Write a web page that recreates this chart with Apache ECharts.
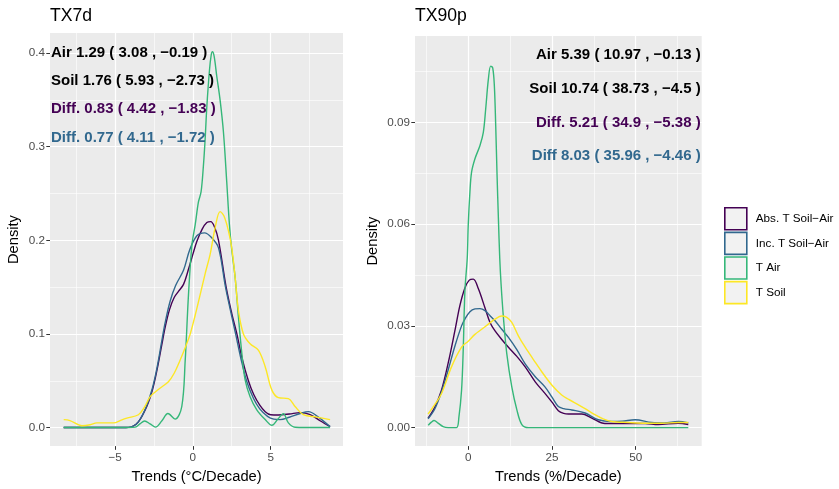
<!DOCTYPE html>
<html>
<head>
<meta charset="utf-8">
<script src="https://cdn.jsdelivr.net/npm/echarts@6/dist/echarts.min.js"></script>
<style>html,body{margin:0;padding:0;background:#fff}#c{width:839px;height:489px}</style>
</head>
<body>
<div id="c"></div>
<script>
// ---------- data ----------
const seriesNames = ['Abs. T Soil\u2212Air', 'Inc. T Soil\u2212Air', 'T Air', 'T Soil'];
const seriesColors = ['#440154', '#31688E', '#35B779', '#FDE725'];

const panelTitles = ['TX7d', 'TX90p'];
const xTitles = ['Trends (\u00B0C/Decade)', 'Trends (%/Decade)'];

// TX7d densities [trend, density]
const tx7dAbs = [[-8.3,0],[-4.5,0],[-3.9,0.001],[-3.5,0.006],[-2.96,0.0225],[-2.6,0.04],[-2.31,0.061],[-2.0,0.088],[-1.78,0.107],[-1.5,0.126],[-1.2,0.139],[-0.9,0.146],[-0.6,0.153],[-0.3,0.168],[0.0,0.185],[0.26,0.199],[0.6,0.212],[0.9,0.219],[1.15,0.22],[1.4,0.214],[1.65,0.2],[2.14,0.15],[2.5,0.122],[2.83,0.1],[3.15,0.075],[3.57,0.05],[3.92,0.035],[4.3,0.024],[4.65,0.017],[5.0,0.0137],[5.5,0.0135],[6.2,0.0145],[6.9,0.016],[7.5,0.0142],[8.2,0.007],[8.82,0.001]];
const tx7dInc = [[-8.3,0],[-4.5,0],[-3.9,0.001],[-3.5,0.006],[-3.0,0.022],[-2.6,0.042],[-2.3,0.064],[-2.0,0.092],[-1.78,0.112],[-1.46,0.135],[-1.1,0.152],[-0.6,0.168],[-0.2,0.19],[0.26,0.205],[0.75,0.208],[1.2,0.203],[1.65,0.192],[2.1,0.15],[2.75,0.1],[3.1,0.073],[3.45,0.05],[3.9,0.031],[4.3,0.02],[4.8,0.012],[5.2,0.009],[5.6,0.0085],[6.2,0.011],[6.9,0.015],[7.43,0.017],[8.0,0.012],[8.82,0.001]];
const tx7dAir = [[-8.3,0],[-4.5,0],[-3.7,0.0005],[-3.4,0.004],[-3.1,0.007],[-2.75,0.004],[-2.4,0.0005],[-2.0,0.007],[-1.6,0.015],[-1.14,0.009],[-0.71,0.0225],[-0.49,0.072],[-0.28,0.142],[-0.06,0.195],[0.15,0.2166],[0.36,0.241],[0.53,0.252],[0.68,0.28],[0.79,0.308],[0.9,0.343],[1.07,0.382],[1.18,0.398],[1.26,0.4014],[1.37,0.3965],[1.54,0.375],[1.75,0.35],[1.97,0.315],[2.18,0.262],[2.35,0.217],[2.5,0.19],[2.72,0.16],[2.93,0.118],[3.15,0.079],[3.36,0.051],[3.68,0.033],[4.11,0.019],[4.65,0.0085],[5.08,0.0024],[5.44,0.0085],[5.82,0.0148],[6.14,0.005],[6.57,0.0003],[7.2,0],[8.82,0]];
const tx7dSoil = [[-8.3,0.0085],[-7.9,0.0075],[-7.13,0.002],[-6.6,0.003],[-6.17,0.005],[-5.1,0.005],[-4.6,0.008],[-4.24,0.01],[-3.5,0.0137],[-3.1,0.022],[-2.74,0.033],[-2.2,0.041],[-1.57,0.049],[-1.2,0.058],[-0.82,0.072],[-0.5,0.085],[-0.17,0.1],[0.15,0.12],[0.47,0.142],[0.8,0.165],[1.11,0.185],[1.45,0.215],[1.75,0.2307],[2.0,0.226],[2.29,0.21],[2.5,0.192],[2.72,0.16],[2.93,0.125],[3.25,0.1],[3.68,0.0895],[4.22,0.0825],[4.65,0.065],[5.08,0.04],[5.5,0.032],[6.14,0.031],[6.57,0.0225],[7.1,0.0137],[7.97,0.0112],[8.82,0.0085]];

// TX90p densities [trend, density]
const tx90pAbs = [[-12,0.0028],[-10,0.006],[-8,0.011],[-6,0.019],[-4,0.0285],[-2.5,0.036],[-1,0.0412],[0.3,0.0435],[1.5,0.0438],[3,0.041],[5,0.0353],[6.5,0.031],[8,0.0285],[10,0.026],[12,0.0237],[14.5,0.021],[17,0.0179],[20,0.0135],[22.9,0.0101],[25,0.0075],[26.9,0.005],[28.5,0.0042],[29.9,0.004],[33.9,0.004],[36.9,0.0028],[40.8,0.0012],[45.8,0.0012],[52.8,0.0012],[56.7,0.0009],[62.7,0.0013],[65.7,0.0009]];
const tx90pInc = [[-12,0.0026],[-10,0.0055],[-8,0.0105],[-6,0.017],[-4,0.024],[-2,0.03],[-1,0.032],[0.5,0.0342],[2,0.035],[3.5,0.0351],[5,0.0345],[6.5,0.033],[8,0.0315],[10,0.029],[12,0.0266],[14.5,0.023],[17,0.0188],[20,0.015],[22.9,0.012],[25,0.009],[26.9,0.0062],[28.5,0.0056],[30.9,0.0052],[34.9,0.0043],[38.8,0.0023],[42.8,0.0018],[46,0.0019],[49.8,0.0023],[54.8,0.0015],[58.5,0.0014],[62.7,0.0018],[65.7,0.0014]];
const tx90pAir = [[-11.95,0.0007],[-11,0.0016],[-10.2,0.0021],[-9,0.0013],[-7.5,0.0003],[-6,0],[-3.5,0],[-2.8,0.003],[-2,0.011],[-1.5,0.023],[-1,0.0403],[-0.3,0.05],[0,0.0598],[0.5,0.0695],[1.0,0.0754],[2,0.0793],[3.5,0.0832],[4.5,0.0871],[5.2,0.0939],[6,0.1027],[6.7,0.1066],[7.3,0.1061],[7.8,0.1007],[8.2,0.089],[8.6,0.0744],[9.0,0.0617],[9.4,0.05],[9.8,0.0423],[10.5,0.0325],[11.5,0.0218],[13,0.012],[14.5,0.0053],[16,0.0009],[18,0],[65.7,0]];
const tx90pSoil = [[-12,0.004],[-10,0.0068],[-8,0.01],[-5,0.0179],[-2,0.0237],[0,0.0255],[2,0.0275],[4,0.029],[6,0.0305],[8,0.032],[10,0.0329],[11.5,0.0325],[13,0.031],[15,0.027],[17,0.0237],[19.5,0.02],[22,0.0164],[25,0.0125],[27.9,0.0096],[30,0.0083],[32.9,0.0067],[35,0.0055],[37.8,0.0038],[40,0.0027],[42.8,0.0018],[47.8,0.0015],[52.8,0.0013],[57.8,0.0013],[62.7,0.0015],[65.7,0.0015]];

// axis ranges and ticks
const tx7dXRange = [-9.18, 9.65];
const tx7dYRange = [-0.0198, 0.4215];
const tx90pXRange = [-15.9, 69.7];
const tx90pYRange = [-0.00546, 0.1155];
const tx7dXTicks = [-5, 0, 5];
const tx7dXMinor = [-7.5, -2.5, 2.5, 7.5];
const tx7dYTicks = [0, 0.1, 0.2, 0.3, 0.4];
const tx7dYMinor = [0.05, 0.15, 0.25, 0.35];
const tx90pXTicks = [0, 25, 50];
const tx90pXMinor = [-12.5, 12.5, 37.5, 62.5];
const tx90pYTicks = [0, 0.03, 0.06, 0.09];
const tx90pYMinor = [0.015, 0.045, 0.075, 0.105];

// annotation texts (positioned at density values)
const tx7dNotes = ['Air 1.29 ( 3.08 , \u22120.19 )', 'Soil 1.76 ( 5.93 , \u22122.73 )', 'Diff. 0.83 ( 4.42 , \u22121.83 )', 'Diff. 0.77 ( 4.11 , \u22121.72 )'];
const tx7dNoteY = [0.4, 0.37, 0.34, 0.31];
const tx90pNotes = ['Air 5.39 ( 10.97 , \u22120.13 )', 'Soil 10.74 ( 38.73 , \u22124.5 )', 'Diff. 5.21 ( 34.9 , \u22125.38 )', 'Diff 8.03 ( 35.96 , \u22124.46 )'];
const tx90pNoteY = [0.11, 0.10, 0.09, 0.08];
const noteColors = ['#000000', '#000000', '#440154', '#31688E'];

// ---------- chart ----------
const FONT = '"Liberation Sans", Arial, Helvetica, sans-serif';
const chart = echarts.init(document.getElementById('c'), null, {renderer: 'canvas'});

function mainX(gi, range, ticks, name) {
  return {
    type: 'value', gridIndex: gi, min: range[0], max: range[1], position: 'bottom',
    name: name, nameLocation: 'middle', nameGap: 21,
    nameTextStyle: {fontFamily: FONT, fontSize: 14.7, color: '#000'},
    axisLine: {show: false, onZero: false},
    axisTick: {show: true, length: 3.7, customValues: ticks, lineStyle: {color: '#333333', width: 1}},
    axisLabel: {show: true, customValues: ticks, margin: 6, fontFamily: FONT, fontSize: 11.7, color: '#4D4D4D',
      formatter: v => String(v).replace('-', '\u2212')},
    splitLine: {show: true, lineStyle: {color: '#FFFFFF', width: 1.2}},
    minorSplitLine: {show: false}
  };
}
function minorX(gi, range, ticks) {
  return {
    type: 'value', gridIndex: gi, min: range[0], max: range[1], position: 'bottom',
    axisLine: {show: false, onZero: false},
    axisTick: {show: false, customValues: ticks},
    axisLabel: {show: false, customValues: ticks},
    splitLine: {show: true, lineStyle: {color: '#FFFFFF', width: 0.6}}
  };
}
function mainY(gi, range, ticks, dec, gap) {
  return {
    type: 'value', gridIndex: gi, min: range[0], max: range[1], position: 'left',
    name: 'Density', nameLocation: 'middle', nameGap: gap, nameRotate: 90,
    nameTextStyle: {fontFamily: FONT, fontSize: 14.7, color: '#000'},
    axisLine: {show: false, onZero: false},
    axisTick: {show: true, length: 3.7, customValues: ticks, lineStyle: {color: '#333333', width: 1}},
    axisLabel: {show: true, customValues: ticks, margin: 5, fontFamily: FONT, fontSize: 11.7, color: '#4D4D4D',
      formatter: v => Number(v).toFixed(dec)},
    splitLine: {show: true, lineStyle: {color: '#FFFFFF', width: 1.2}}
  };
}
function minorY(gi, range, ticks) {
  return {
    type: 'value', gridIndex: gi, min: range[0], max: range[1], position: 'left',
    axisLine: {show: false, onZero: false},
    axisTick: {show: false, customValues: ticks},
    axisLabel: {show: false, customValues: ticks},
    splitLine: {show: true, lineStyle: {color: '#FFFFFF', width: 0.6}}
  };
}

function densitySeries(data, idx, axisIdx) {
  return {
    type: 'line', name: seriesNames[idx], data: data,
    xAxisIndex: axisIdx, yAxisIndex: axisIdx,
    showSymbol: false, symbol: 'none', smooth: 0.35,
    lineStyle: {color: seriesColors[idx], width: 1.4},
    itemStyle: {color: seriesColors[idx]},
    emphasis: {disabled: true}, silent: true, z: 3 + idx
  };
}

function noteSeries(texts, ys, x, axisIdx, pos) {
  return {
    type: 'scatter', xAxisIndex: axisIdx, yAxisIndex: axisIdx,
    symbolSize: 0, silent: true, z: 10,
    itemStyle: {opacity: 1},
    emphasis: {disabled: true},
    data: texts.map((t, i) => ({
      value: [x, ys[i]], name: t,
      label: {color: noteColors[i]}
    })),
    label: {show: true, position: pos, distance: 1, formatter: '{b}', opacity: 1,
      fontFamily: FONT, fontSize: 15, fontWeight: 'bold'}
  };
}

const option = {
  animation: false,
  backgroundColor: '#FFFFFF',
  title: [
    {text: panelTitles[0], left: 50, top: 7, padding: 0,
      textStyle: {fontFamily: FONT, fontSize: 17.6, fontWeight: 'normal', color: '#000'}},
    {text: panelTitles[1], left: 415, top: 7, padding: 0,
      textStyle: {fontFamily: FONT, fontSize: 17.6, fontWeight: 'normal', color: '#000'}}
  ],
  grid: [
    {left: 50, top: 33, width: 293, height: 417, show: true, backgroundColor: '#EBEBEB', borderWidth: 0, containLabel: false},
    {left: 415, top: 36, width: 286.7, height: 414, show: true, backgroundColor: '#EBEBEB', borderWidth: 0, containLabel: false}
  ],
  xAxis: [
    mainX(0, tx7dXRange, tx7dXTicks, xTitles[0]),
    minorX(0, tx7dXRange, tx7dXMinor),
    mainX(1, tx90pXRange, tx90pXTicks, xTitles[1]),
    minorX(1, tx90pXRange, tx90pXMinor)
  ],
  yAxis: [
    mainY(0, tx7dYRange, tx7dYTicks, 1, 29),
    minorY(0, tx7dYRange, tx7dYMinor),
    mainY(1, tx90pYRange, tx90pYTicks, 2, 35),
    minorY(1, tx90pYRange, tx90pYMinor)
  ],
  legend: {
    orient: 'vertical', left: 724, top: 207, padding: 0,
    itemWidth: 22, itemHeight: 22, itemGap: 1,
    selectedMode: false,
    textStyle: {fontFamily: FONT, fontSize: 11.7, color: '#000', padding: [0, 0, 0, 4]},
    data: seriesNames.map((n, i) => ({
      name: n, icon: 'rect',
      itemStyle: {color: '#F2F2F2', borderColor: seriesColors[i], borderWidth: 1.6}
    }))
  },
  series: [
    densitySeries(tx7dAbs, 0, 0),
    densitySeries(tx7dInc, 1, 0),
    densitySeries(tx7dAir, 2, 0),
    densitySeries(tx7dSoil, 3, 0),
    densitySeries(tx90pAbs, 0, 2),
    densitySeries(tx90pInc, 1, 2),
    densitySeries(tx90pAir, 2, 2),
    densitySeries(tx90pSoil, 3, 2),
    noteSeries(tx7dNotes, tx7dNoteY, tx7dXRange[0], 0, 'right'),
    noteSeries(tx90pNotes, tx90pNoteY, tx90pXRange[1], 2, 'left')
  ]
};
chart.setOption(option);
</script>
</body>
</html>
